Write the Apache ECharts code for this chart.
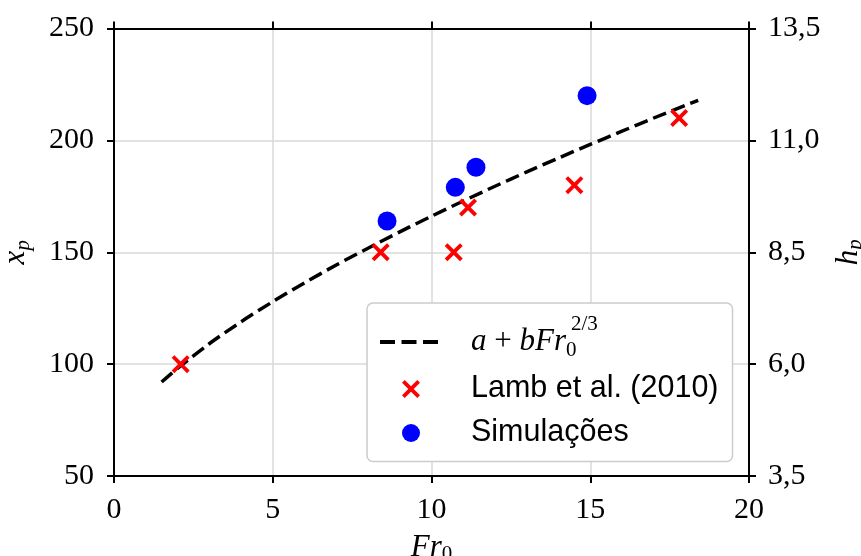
<!DOCTYPE html>
<html>
<head>
<meta charset="utf-8">
<script src="https://cdn.jsdelivr.net/npm/echarts@6/dist/echarts.min.js"></script>
<style>
html,body{margin:0;padding:0;background:#fff;}
#chart{width:861px;height:556px;}
</style>
</head>
<body>
<div id="chart"></div>
<script>
// ---- data ----
const fitFr = [1.5, 2, 3, 4, 5, 6, 7, 8, 9, 10, 11, 12, 13, 14, 15, 16, 17, 18, 18.4];
const fitXp = [92.0, 98.1, 109.1, 118.9, 127.9, 136.3, 144.3, 151.8, 159.1, 166.1, 172.9, 179.5, 185.9, 192.1, 198.2, 204.1, 210.0, 215.7, 217.9];

const lambFr = [2.1, 8.4, 10.7, 11.15, 14.5, 17.8];
const lambXp = [100, 150, 150, 170, 180, 210];

const simFr = [8.6, 10.75, 11.4, 14.9];
const simXp = [164, 179, 188, 220];

const xTicks = [0, 5, 10, 15, 20];
const leftTicks = [50, 100, 150, 200, 250];
const rightTickLabels = ['3,5', '6,0', '8,5', '11,0', '13,5'];

const fitName = 'a + bFr0^(2/3)';
const lambName = 'Lamb et al. (2010)';
const simName = 'Simulações';

// ---- build ----
const zip = (a, b) => a.map((v, i) => [v, b[i]]);
const crossPath = 'path://M0,15 L15,0 L50,35 L85,0 L100,15 L65,50 L100,85 L85,100 L50,65 L15,100 L0,85 L35,50 Z';
const dashIcon = 'path://M0,0h0.01v0.01h-0.01z M0,17.99h0.01v0.01h-0.01z M0,7h15v4h-15z M21.5,7h15v4h-15z M43,7h15v4h-15z M61.99,9h0.01v0.01h-0.01z';

const serif = 'Liberation Serif';
const tickFont = { fontFamily: serif, fontSize: 30, color: '#000' };
const axisLineStyle = { color: '#000', width: 2 };
const nameRich = {
  i: { fontFamily: serif, fontStyle: 'italic', fontSize: 31, lineHeight: 32, color: '#000' },
  s: { fontFamily: serif, fontSize: 21, lineHeight: 21, padding: [14, 0, 0, 0], color: '#000' },
  si: { fontFamily: serif, fontStyle: 'italic', fontSize: 21, lineHeight: 21, padding: [14, 0, 0, 0], color: '#000' }
};

const chart = echarts.init(document.getElementById('chart'), null, { renderer: 'canvas' });
chart.setOption({
  animation: false,
  backgroundColor: '#fff',
  grid: { left: 114, right: 112, top: 28.5, bottom: 80, containLabel: false, outerBoundsMode: 'none' },
  xAxis: [
    {
      type: 'value', position: 'bottom', min: xTicks[0], max: xTicks[xTicks.length - 1], interval: 5,
      axisLine: { show: true, onZero: false, lineStyle: axisLineStyle },
      axisTick: { show: true, inside: false, length: 7, lineStyle: axisLineStyle },
      axisLabel: Object.assign({ margin: 19 }, tickFont),
      splitLine: { show: true, lineStyle: { color: '#d9d9d9', width: 1.5 } },
      name: '{i|Fr}{s|0}', nameLocation: 'middle', nameGap: 51,
      nameTextStyle: { rich: nameRich }
    },
    {
      type: 'value', position: 'top', min: xTicks[0], max: xTicks[xTicks.length - 1], interval: 5,
      axisLine: { show: true, onZero: false, lineStyle: axisLineStyle },
      axisTick: { show: true, inside: false, length: 7, lineStyle: axisLineStyle },
      axisLabel: { show: false },
      splitLine: { show: false }
    }
  ],
  yAxis: [
    {
      type: 'value', position: 'left', min: leftTicks[0], max: leftTicks[leftTicks.length - 1], interval: 50,
      axisLine: { show: true, onZero: false, lineStyle: axisLineStyle },
      axisTick: { show: true, inside: false, length: 7, lineStyle: axisLineStyle },
      axisLabel: Object.assign({ margin: 20 }, tickFont),
      splitLine: { show: true, lineStyle: { color: '#d9d9d9', width: 1.5 } },
      name: '{i|x}{si|p}', nameLocation: 'middle', nameGap: 82, nameRotate: 90,
      nameTextStyle: { rich: nameRich }
    },
    {
      type: 'value', position: 'right', min: leftTicks[0], max: leftTicks[leftTicks.length - 1], interval: 50,
      axisLine: { show: true, onZero: false, lineStyle: axisLineStyle },
      axisTick: { show: true, inside: false, length: 7, lineStyle: axisLineStyle },
      axisLabel: Object.assign({
        margin: 19,
        formatter: function (v) { return rightTickLabels[leftTicks.indexOf(v)]; }
      }, tickFont),
      splitLine: { show: false },
      name: '{i|h}{si|p}', nameLocation: 'middle', nameGap: 78, nameRotate: 90,
      nameTextStyle: { rich: nameRich }
    }
  ],
  legend: {
    orient: 'vertical', left: 367, top: 303,
    padding: [11, 14, 13, 13], itemGap: 13,
    itemWidth: 62, itemHeight: 18,
    backgroundColor: '#fff', borderColor: '#cccccc', borderWidth: 1.5, borderRadius: 6,
    selectedMode: false,
    textStyle: {
      fontFamily: 'Liberation Sans', fontSize: 30.5, color: '#000', padding: [0, 0, 0, 24],
      rich: {
        m: { fontFamily: serif, fontStyle: 'italic', fontSize: 31, lineHeight: 36, color: '#000' },
        p: { fontFamily: serif, fontSize: 31, lineHeight: 36, color: '#000' },
        sb: { fontFamily: serif, fontSize: 21, lineHeight: 21, width: 1, padding: [16, 0, 0, 0], color: '#000' },
        sp: { fontFamily: serif, fontSize: 21, lineHeight: 21, verticalAlign: 'top', padding: [-10, 0, 0, 4], color: '#000' }
      }
    },
    formatter: function (name) {
      if (name === fitName) return '{m|a}{p| + }{m|bFr}{sb|0}{sp|2/3}';
      return name;
    },
    data: [
      { name: fitName, icon: dashIcon, itemStyle: { color: '#000' } },
      { name: lambName, icon: crossPath, itemStyle: { color: '#ff0000' } },
      { name: simName, icon: 'circle', itemStyle: { color: '#0000ff' } }
    ]
  },
  series: [
    {
      name: fitName, type: 'line', data: zip(fitFr, fitXp), showSymbol: false, symbol: 'none', smooth: 0.3,
      lineStyle: { color: '#000', width: 3.5, type: [14, 6] }, itemStyle: { color: '#000' }, z: 2
    },
    {
      name: lambName, type: 'scatter', data: zip(lambFr, lambXp), symbol: crossPath, symbolSize: 18,
      itemStyle: { color: '#ff0000', opacity: 1 }, z: 3
    },
    {
      name: simName, type: 'scatter', data: zip(simFr, simXp), symbol: 'circle', symbolSize: 19,
      itemStyle: { color: '#0000ff', opacity: 1 }, z: 4
    }
  ]
});
</script>
</body>
</html>
